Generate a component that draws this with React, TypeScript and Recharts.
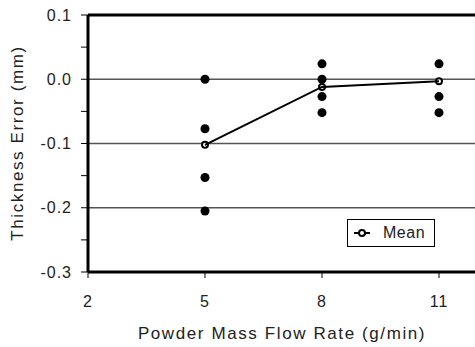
import React from "react";
import {
  ComposedChart,
  Scatter,
  Line,
  XAxis,
  YAxis,
  ReferenceLine,
  Legend,
  Label,
} from "recharts";

const flowRates = [5, 8, 11];
const meanErrors = [-0.102, -0.012, -0.003];

const sampleRates = [5, 5, 5, 5, 8, 8, 8, 8, 11, 11, 11];
const sampleErrors = [0.0, -0.077, -0.153, -0.205, 0.024, 0.0, -0.027, -0.052, 0.024, -0.027, -0.052];

const xTicks = [2, 5, 8, 11];
const yTicks = [-0.3, -0.25, -0.2, -0.15, -0.1, -0.05, 0, 0.05, 0.1];
const gridLines = [0, -0.1, -0.2];

const FONT = "'Liberation Sans', Arial, sans-serif";

const means = flowRates.map((x, i) => ({ x, y: meanErrors[i] }));
const samples = sampleRates.map((x, i) => ({ x, y: sampleErrors[i] }));

const fmtY = (v: number) =>
  Math.abs(v * 10 - Math.round(v * 10)) < 1e-6 ? v.toFixed(1) : "";

function MeanLegend() {
  return (
    <div
      style={{
        boxSizing: "border-box",
        width: 88,
        height: 28,
        border: "1px solid #000",
        background: "#fff",
        display: "flex",
        alignItems: "center",
        fontFamily: FONT,
        fontSize: 16,
        letterSpacing: 0.5,
        color: "#222",
      }}
    >
      <svg width={30} height={14} style={{ marginLeft: 5 }}>
        <line x1={1} y1={7} x2={17} y2={7} stroke="#000" strokeWidth={2} />
        <circle cx={9} cy={7} r={3} fill="#fff" stroke="#000" strokeWidth={2} />
      </svg>
      <span style={{ marginLeft: 0 }}>Mean</span>
    </div>
  );
}

export default function App() {
  return (
    <div
      style={{
        position: "absolute",
        left: 0,
        top: 0,
        width: 475,
        height: 347,
        overflow: "hidden",
        background: "#fff",
        fontFamily: FONT,
      }}
    >
      <ComposedChart
        width={480}
        height={347}
        margin={{ top: 15, right: 2, bottom: 15, left: 0 }}
      >
        <XAxis
          type="number"
          dataKey="x"
          domain={[2, 12]}
          ticks={xTicks}
          allowDataOverflow
          tickSize={6}
          tickMargin={18}
          height={60}
          axisLine={{ stroke: "#000", strokeWidth: 3 }}
          tickLine={{ stroke: "#000" }}
          tick={{ fill: "#222", fontSize: 16, style: { letterSpacing: 1 } }}
        >
          <Label
            content={() => (
              <text
                x={282}
                y={339}
                textAnchor="middle"
                fontSize={17}
                fill="#222"
                style={{ letterSpacing: 1.6 }}
              >
                Powder Mass Flow Rate (g/min)
              </text>
            )}
          />
        </XAxis>
        <YAxis
          type="number"
          dataKey="y"
          domain={[-0.3, 0.1]}
          ticks={yTicks}
          interval={0}
          allowDataOverflow
          width={88}
          tickSize={7}
          tickMargin={9}
          tickFormatter={fmtY}
          axisLine={{ stroke: "#000", strokeWidth: 3 }}
          tickLine={{ stroke: "#000" }}
          tick={{ fill: "#222", fontSize: 16, style: { letterSpacing: 1 } }}
        >
          <Label
            content={() => (
              <text
                x={23}
                y={143}
                transform="rotate(-90, 23, 143)"
                textAnchor="middle"
                fontSize={17}
                fill="#222"
                style={{ letterSpacing: 1.6 }}
              >
                Thickness Error (mm)
              </text>
            )}
          />
        </YAxis>
        {gridLines.map((g) => (
          <ReferenceLine key={g} y={g} stroke="#555" strokeWidth={1.5} />
        ))}
        <ReferenceLine y={0.1} stroke="#000" strokeWidth={3} />
        <Scatter
          name="samples"
          data={samples}
          dataKey="y"
          fill="#000"
          shape="circle"
          legendType="none"
          isAnimationActive={false}
        />
        <Line
          name="Mean"
          data={means}
          dataKey="y"
          type="linear"
          stroke="#000"
          strokeWidth={2}
          dot={{ r: 3, fill: "#fff", stroke: "#000", strokeWidth: 2 }}
          activeDot={false}
          zIndex={700}
          isAnimationActive={false}
        />
        <Legend
          layout="horizontal"
          verticalAlign="middle"
          align="center"
          content={() => <MeanLegend />}
          wrapperStyle={{ left: 347, top: 219, width: 88, height: 28 }}
        />
      </ComposedChart>
    </div>
  );
}
